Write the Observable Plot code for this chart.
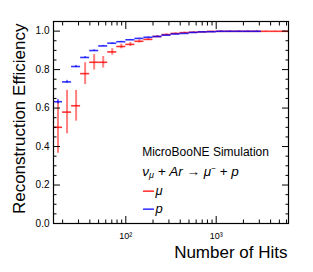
<!DOCTYPE html>
<html><head><meta charset="utf-8">
<script src="https://cdn.jsdelivr.net/npm/d3@7"></script>
<script src="https://cdn.jsdelivr.net/npm/@observablehq/plot@0.6"></script>
<style>body{margin:0;background:#fff}svg{display:block;overflow:visible}</style>
</head><body><div id="chart"></div>
<script>
// bin edges (log-spaced, number of hits)
const binEdges = [15.85, 19.95, 25.12, 31.62, 39.81, 50.12, 63.10, 79.43, 100, 125.9, 158.5, 199.5, 251.2, 316.2, 398.1, 501.2, 631.0, 794.3, 1000, 1259, 1585, 1995, 2512, 3162, 3981, 5012, 6310];
// muon efficiency per bin and its error
const muonEff = [0.500, 0.579, 0.612, 0.779, 0.838, 0.838, 0.892, 0.920, 0.931, 0.947, 0.957, 0.972, 0.982, 0.988, 0.992, 0.994, 0.996, 0.998, 0.999, 0.999, 0.999, 0.999, 0.999, 0.999, 0.999, 0.999];
const muonErr = [0.135, 0.113, 0.080, 0.057, 0.040, 0.030, 0.017, 0.012, 0.010, 0.008, 0.006, 0.005, 0.004, 0.003, 0.003, 0.002, 0.002, 0.002, 0.001, 0.001, 0.001, 0.001, 0.001, 0.001, 0.001, 0.001];
// proton efficiency per bin and its error
const protonEff = [0.633, 0.736, 0.816, 0.863, 0.899, 0.923, 0.937, 0.945, 0.955, 0.962, 0.968, 0.972, 0.979, 0.985, 0.988, 0.993, 0.996, 0.997, 0.999, 0.999, 0.999, 0.999, 0.999];
const protonErr = [0.012, 0.008, 0.006, 0.005, 0.004, 0.003, 0.003, 0.002, 0.002, 0.002, 0.002, 0.002, 0.001, 0.001, 0.001, 0.001, 0.001, 0.001, 0.001, 0.001, 0.001, 0.001, 0.001];
// ticks
const xMajorTicks = [100, 1000];
const xTickLabels = ["10²", "10³"];
const xMinorTicks = [20, 30, 40, 50, 60, 70, 80, 90, 200, 300, 400, 500, 600, 700, 800, 900, 2000, 3000, 4000, 5000, 6000];
const yMajorTicks = [0, 0.2, 0.4, 0.6, 0.8, 1.0];
const yMinorTicks = [0.05, 0.1, 0.15, 0.25, 0.3, 0.35, 0.45, 0.5, 0.55, 0.65, 0.7, 0.75, 0.85, 0.9, 0.95];
// texts
const yTitle = "Reconstruction Efficiency";
const xTitle = "Number of Hits";
const headerText = "MicroBooNE Simulation";
const formulaText = "ν μ + Ar → μ − + p";
const legendNames = ["μ", "p"];
const legendColors = ["#ff0000", "#0000ff"];

const toRows = (eff, err) => eff.map((v, i) => ({
  lo: binEdges[i], hi: binEdges[i + 1],
  mid: Math.sqrt(binEdges[i] * binEdges[i + 1]),
  eff: v, e1: v - err[i], e2: v + err[i]
}));
const muon = toRows(muonEff, muonErr);
const proton = toRows(protonEff, protonErr);

const lineShape = {draw(ctx, l) { ctx.moveTo(0, 0); ctx.lineTo(0, -l); }};
const font = "'Liberation Sans', Arial, Helvetica, sans-serif";
const blank = () => "";

const chart = Plot.plot({
  width: 313, height: 272,
  marginLeft: 53, marginRight: 25, marginTop: 21, marginBottom: 49,
  style: {fontFamily: font, fontSize: "10px", background: "#fff", color: "#000"},
  x: {type: "log", domain: [binEdges[0], binEdges[binEdges.length - 1]], label: null},
  y: {domain: [0, 1.05], label: null},
  marks: [
    // muon
    Plot.ruleX(muon, {x: "mid", y1: "e1", y2: "e2", stroke: legendColors[0], strokeOpacity: 0.5, strokeWidth: 2}),
    Plot.ruleY(muon, {y: "eff", x1: "lo", x2: "hi", stroke: legendColors[0], strokeOpacity: 0.8, strokeWidth: 1.6}),
    // proton
    Plot.ruleX(proton, {x: "mid", y1: "e1", y2: "e2", stroke: legendColors[1], strokeOpacity: 0.5, strokeWidth: 2}),
    Plot.ruleY(proton, {y: "eff", x1: "lo", x2: "hi", stroke: legendColors[1], strokeOpacity: 0.8, strokeWidth: 1.6}),
    // axes (ticks inward, ROOT style)
    Plot.axisX({anchor: "bottom", ticks: xMajorTicks, tickSize: -7, tickPadding: 16, tickFormat: d => xTickLabels[xMajorTicks.indexOf(d)], fontSize: 9, label: null}),
    Plot.axisX({anchor: "bottom", ticks: xMinorTicks, tickSize: -3.5, tickFormat: blank, label: null}),
    Plot.axisX({anchor: "top", ticks: xMajorTicks, tickSize: -7, tickFormat: blank, label: null}),
    Plot.axisX({anchor: "top", ticks: xMinorTicks, tickSize: -3.5, tickFormat: blank, label: null}),
    Plot.axisY({anchor: "left", ticks: yMajorTicks, tickSize: -7, tickPadding: 11, tickFormat: d3.format(".1f"), fontSize: 10, label: null}),
    Plot.axisY({anchor: "left", ticks: yMinorTicks, tickSize: -3.5, tickFormat: blank, label: null}),
    Plot.axisY({anchor: "right", ticks: yMajorTicks, tickSize: -7, tickFormat: blank, label: null}),
    Plot.axisY({anchor: "right", ticks: yMinorTicks, tickSize: -3.5, tickFormat: blank, label: null}),
    Plot.frame({stroke: "#000", strokeWidth: 1.2}),
    // titles
    Plot.text([yTitle], {text: d => d, frameAnchor: "top-left", rotate: -90, textAnchor: "end", lineAnchor: "middle", dx: -34, dy: 2, fontSize: 17}),
    Plot.text([xTitle], {text: d => d, frameAnchor: "bottom-right", textAnchor: "end", lineAnchor: "middle", dx: -1, dy: 29.5, fontSize: 17}),
    // legend
    Plot.text([headerText], {text: d => d, frameAnchor: "top-left", textAnchor: "start", lineAnchor: "middle", dx: 88.7, dy: 130.3, fontSize: 12}),
    Plot.text([formulaText], {text: d => d, frameAnchor: "top-left", textAnchor: "start", lineAnchor: "middle", dx: 88.7, dy: 149.7, fontSize: 13.5, fontStyle: "italic"}),
    Plot.vector([0], {frameAnchor: "top-left", dx: 90, dy: 169.7, length: 10, rotate: 90, anchor: "start", shape: lineShape, stroke: legendColors[0], strokeWidth: 1.2}),
    Plot.vector([0], {frameAnchor: "top-left", dx: 90, dy: 187.7, length: 10, rotate: 90, anchor: "start", shape: lineShape, stroke: legendColors[1], strokeWidth: 1.2}),
    Plot.text([legendNames[0]], {text: d => d, frameAnchor: "top-left", textAnchor: "start", lineAnchor: "middle", dx: 102, dy: 169.1, fontSize: 13, fontStyle: "italic"}),
    Plot.text([legendNames[1]], {text: d => d, frameAnchor: "top-left", textAnchor: "start", lineAnchor: "middle", dx: 102, dy: 187.1, fontSize: 13, fontStyle: "italic"})
  ]
});
document.getElementById("chart").appendChild(chart);

// rich text for the reaction formula: ν_μ + Ar → μ⁻ + p
const ft = [...chart.querySelectorAll("text")].find(e => e.textContent === formulaText);
if (ft) {
  const parts = [["ν", null, null], ["μ", 2.5, 9], [" + Ar → μ", -2.5, null], ["−", -4.5, 8], [" + p", 4.5, null]];
  ft.textContent = "";
  for (const [s, dy, fs] of parts) {
    const ts = document.createElementNS("http://www.w3.org/2000/svg", "tspan");
    ts.textContent = s;
    if (dy != null) ts.setAttribute("dy", dy);
    if (fs != null) ts.setAttribute("font-size", fs);
    ft.appendChild(ts);
  }
}
</script>
</body></html>
